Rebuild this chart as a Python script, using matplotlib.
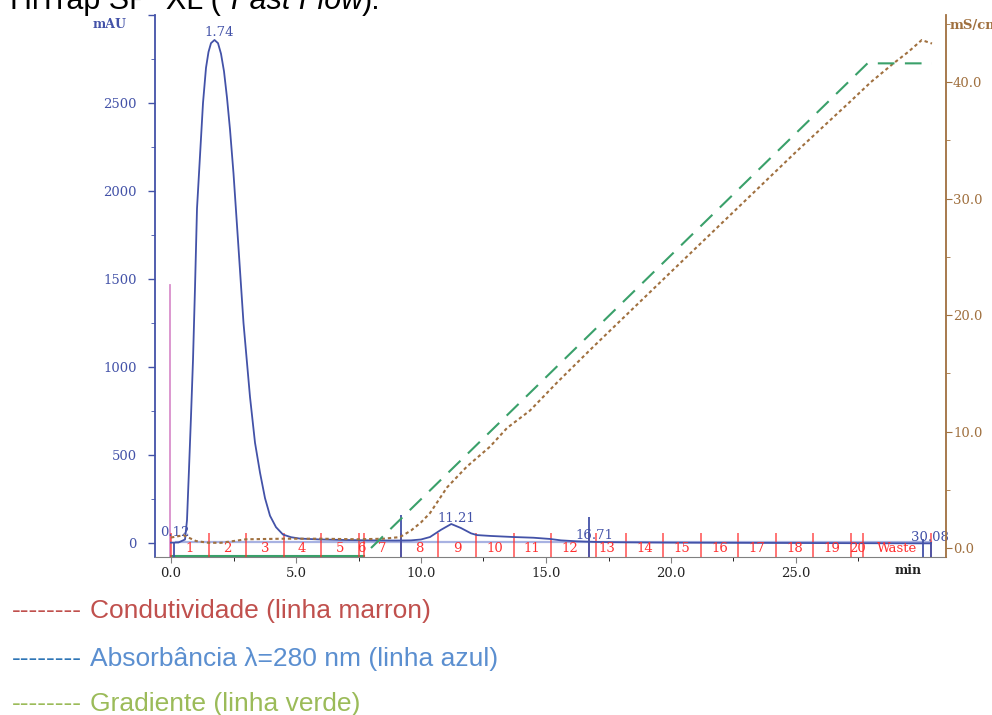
import matplotlib
matplotlib.use("Agg")
import matplotlib.pyplot as plt
import numpy as np

# UV 280 nm trace (mAU)
uv_time = [0.0, 0.3, 0.56, 0.64, 0.72, 0.8, 0.88, 0.96, 1.04, 1.16, 1.28, 1.4, 1.5, 1.6,
           1.74, 1.88, 2.0, 2.12, 2.24, 2.36, 2.5, 2.68, 2.9, 3.16, 3.36, 3.56, 3.76, 3.96,
           4.2, 4.48, 4.8, 5.16, 6.0, 7.0, 8.0, 9.0, 9.6, 10.0, 10.36, 10.8, 11.21, 11.6,
           12.0, 12.24, 12.8, 13.7, 14.5, 15.16, 15.6, 16.2, 17.0, 18.0, 20.0, 25.0, 30.0, 30.4]
uv_mau = [2, 3, 20, 130, 420, 720, 1040, 1450, 1900, 2200, 2500, 2700, 2790, 2840,
          2858, 2840, 2780, 2680, 2530, 2350, 2100, 1720, 1250, 830, 570, 400, 255, 155,
          90, 48, 33, 25, 20, 17, 15, 14, 15, 20, 34, 75, 108, 85,
          55, 45, 40, 34, 30, 23, 15, 10, 6, 4, 2, 0, -2, -2]

# conductivity (mS/cm)
cond_time = [0.0, 0.25, 0.5, 0.7, 1.0, 1.5, 2.0, 2.5, 3.0, 4.5, 6.0, 7.5, 8.5, 9.16, 9.6,
             10.0, 10.36, 11.04, 11.84, 12.76, 13.44, 14.36, 15.44, 16.88, 20.0, 25.0,
             27.16, 28.0, 28.9, 29.5, 30.03, 30.44]
cond_ms = [0.9, 1.0, 1.1, 0.9, 0.6, 0.45, 0.45, 0.6, 0.75, 0.8, 0.8, 0.75, 0.8, 0.94, 1.5,
           2.2, 3.0, 5.2, 7.0, 8.7, 10.3, 11.8, 14.2, 17.25, 23.7, 34.0,
           38.3, 40.0, 41.6, 42.6, 43.6, 43.3]

# gradient (plotted on the conductivity scale)
grad_time = [8.0, 27.86, 30.44]
grad_val = [0.0, 41.6, 41.6]

# fractions
frac_edges = [0, 1.5, 3.0, 4.5, 6.0, 7.5, 7.7, 9.2, 10.7, 12.2, 13.7, 15.2, 16.7, 18.2,
              19.7, 21.2, 22.7, 24.2, 25.7, 27.2, 27.7, 30.4]
frac_labels = ['1', '2', '3', '4', '5', '6', '7', '8', '9', '10', '11', '12', '13', '14',
               '15', '16', '17', '18', '19', '20', 'Waste']
extra_red = [17.0]

# peak marks
peak_labels = ['0.12', '1.74', '11.21', '16.71', '30.08']
peak_label_x = [0.16, 1.92, 11.4, 16.92, 30.36]
peak_label_y = [57, 2898, 142, 40, 34]
marker_times = [0.12, 9.2, 16.71, 30.08, 30.4]
marker_tops = [0, 160, 150, 25, 5]
inject_time = -0.04
inject_top = 1466

blue = '#4352a8'
brown = '#a0703f'
green = '#3aa06a'
red = '#ff3030'
serif = 'DejaVu Serif'

fig = plt.figure(figsize=(9.92, 7.15), dpi=100)
ax = fig.add_axes([155/992, 1-557/715, 791/992, 542/715])
ax2 = ax.twinx()

ax.set_xlim(-0.64, 31.0)
ax.set_ylim(-79.5, 3000)
ax2.set_ylim(-0.77, 45.75)

# curves
ax.plot(uv_time, uv_mau, color=blue, lw=1.3, zorder=5)
ax2.plot(cond_time, cond_ms, color=brown, lw=1.5, ls=(0, (1.6, 1.4)), zorder=4)
ax2.plot(grad_time, grad_val, color=green, lw=1.5, ls=(0, (8, 5)), zorder=4)
ax.plot([0, 7.7], [-76, -76], color=green, lw=1.5, zorder=3)

# injection mark
ax.plot([inject_time, inject_time], [-79.5, inject_top], color='#d98fcb', lw=1.3)

# baseline of integration
ax.plot([0.2, 30.4], [4, 4], color='#6f7fd0', lw=1.6, alpha=0.6, zorder=2)

# fractions
ax.vlines(frac_edges + extra_red, -79.5, 57, color=red, lw=1.1, alpha=0.85, zorder=3)
for i in range(len(frac_labels)):
    xc = (frac_edges[i] + frac_edges[i+1]) / 2
    ax.text(xc, -30, frac_labels[i], color=red, fontsize=9.5, family=serif,
            ha='center', va='center', zorder=6)

# peak markers and labels
ax.vlines(marker_times, -79.5, marker_tops, color=blue, lw=1.3, zorder=6)
for lab, xx, yy in zip(peak_labels, peak_label_x, peak_label_y):
    ax.text(xx, yy, lab, color=blue, fontsize=9.5, family=serif,
            ha='center', va='center', zorder=7)

# axes styling
ax.spines['top'].set_visible(False)
ax2.spines['top'].set_visible(False)
ax.spines['right'].set_visible(False)
ax2.spines['left'].set_visible(False)
ax2.spines['bottom'].set_visible(False)
ax.spines['left'].set_color(blue)
ax.spines['bottom'].set_color('#808080')
ax2.spines['right'].set_color(brown)
ax.spines['left'].set_linewidth(1.3)
ax2.spines['right'].set_linewidth(1.3)

ax.set_yticks([0, 500, 1000, 1500, 2000, 2500, 3000])
ax.set_yticklabels(['0', '500', '1000', '1500', '2000', '2500', ''])
ax.set_yticks(np.arange(250, 3000, 500), minor=True)
ax.tick_params(axis='y', colors=blue, labelcolor=blue, length=5, width=1, labelsize=9.5, pad=8)
ax.tick_params(axis='y', which='minor', colors=blue, length=3)

ax.set_xticks([0, 5, 10, 15, 20, 25])
ax.set_xticklabels(['0.0', '5.0', '10.0', '15.0', '20.0', '25.0'])
ax.set_xticks([2.5, 7.5, 12.5, 17.5, 22.5, 27.5], minor=True)
ax.tick_params(axis='x', colors='#808080', labelcolor='#222222', length=4, labelsize=9.5, pad=3)
ax.tick_params(axis='x', which='minor', length=3)

ax2.set_yticks([0, 10, 20, 30, 40])
ax2.set_yticklabels(['0.0', '10.0', '20.0', '30.0', '40.0'])
ax2.set_yticks([5, 15, 25, 35, 45], minor=True)
ax2.tick_params(axis='y', colors=brown, labelcolor=brown, length=4, labelsize=9.5, pad=1)
ax2.tick_params(axis='y', which='minor', colors=brown, length=3)

for lab in ax.get_xticklabels() + ax.get_yticklabels() + ax2.get_yticklabels():
    lab.set_family(serif)

fig.text(110/992, 1-25/715, 'mAU', color=blue, fontsize=9, family=serif,
         fontweight='bold', ha='center', va='center')
fig.text(950/992, 1-25/715, 'mS/cm', color=brown, fontsize=9.5, family=serif,
         fontweight='bold', ha='left', va='center')
fig.text(908/992, 1-570/715, 'min', color='#222222', fontsize=9, family=serif,
         fontweight='bold', ha='center', va='center')

# title, cut at the top of the picture as in the source
fig.text(10/992, 1-9/715, 'HiTrap SP  XL (', fontsize=22, family='Liberation Sans',
         va='baseline', ha='left')
fig.text(231/992, 1-9/715, 'Fast Flow', fontsize=22, family='Liberation Sans',
         style='italic', va='baseline', ha='left')
fig.text(362/992, 1-9/715, ').', fontsize=22, family='Liberation Sans',
         va='baseline', ha='left')

# legend lines under the chart
leg_text = ['Condutividade (linha marron)', 'Absorbância λ=280 nm (linha azul)',
            'Gradiente (linha verde)']
leg_dash_col = ['#c0504d', '#2e75b6', '#9bbb59']
leg_text_col = ['#c0504d', '#5b8fd0', '#9bbb59']
leg_y = [611, 659, 704]
for t, cd, ct, yy in zip(leg_text, leg_dash_col, leg_text_col, leg_y):
    fig.text(12/992, 1-yy/715, '--------', color=cd, fontsize=19,
             family='Liberation Sans', va='center', ha='left')
    fig.text(90/992, 1-yy/715, t, color=ct, fontsize=19,
             family='Liberation Sans', va='center', ha='left')

fig.savefig('out.png', dpi=100)
